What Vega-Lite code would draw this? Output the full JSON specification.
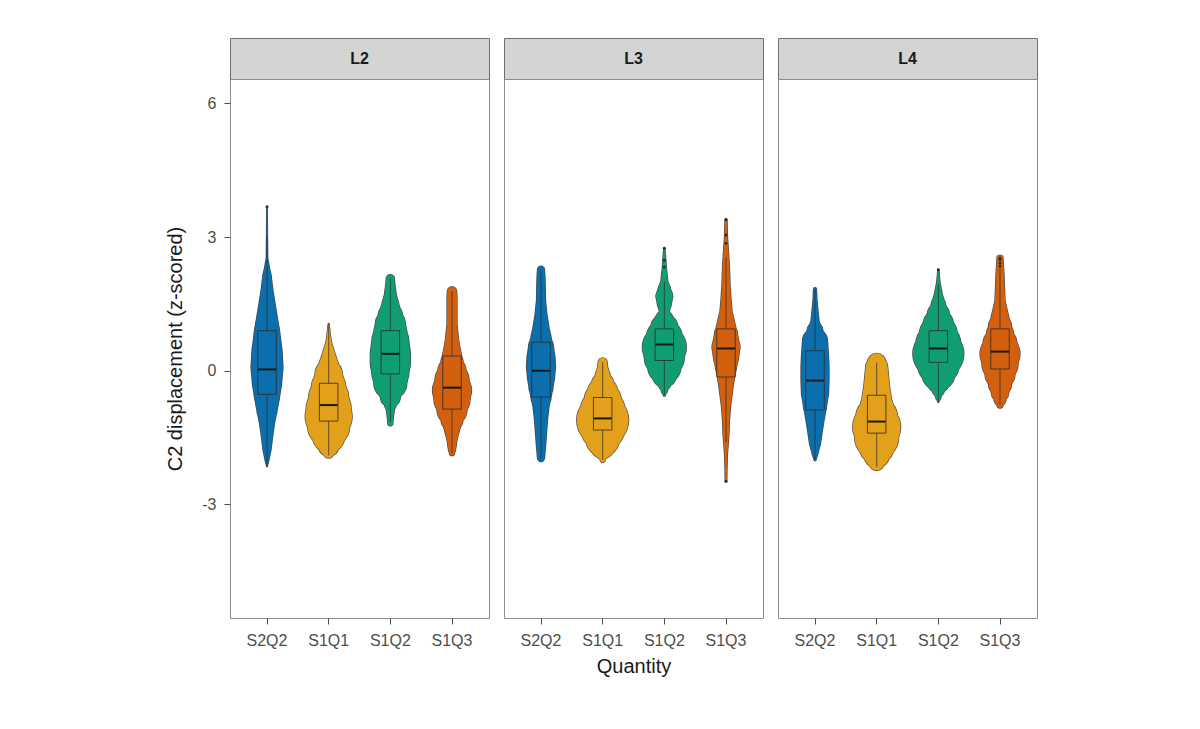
{
  "$schema": "https://vega.github.io/schema/vega-lite/v6.json",
  "padding": {"left": 165, "top": 37, "right": 5, "bottom": 5},
  "background": "white",
  "config": {
    "font": "Liberation Sans",
    "view": {"stroke": "#8c8c8c", "strokeWidth": 1},
    "axis": {
      "labelColor": "#4d4d4d", "labelFontSize": 16, "tickColor": "#4d4d4d", "tickSize": 6, "labelPadding": 8,
      "domain": false, "grid": false, "titleColor": "#1a1a1a", "titleFontWeight": "normal", "titleFontSize": 20
    }
  },
  "datasets": {
    "strips": [{"panel": "L2"}, {"panel": "L3"}, {"panel": "L4"}],
    "violin": [
      {"panel": "L2", "group": "S2Q2", "y": 3.68, "d": 0.01}, {"panel": "L2", "group": "S2Q2", "y": 3.0, "d": 0.02},
      {"panel": "L2", "group": "S2Q2", "y": 2.53, "d": 0.03}, {"panel": "L2", "group": "S2Q2", "y": 2.3, "d": 0.1},
      {"panel": "L2", "group": "S2Q2", "y": 2.16, "d": 0.16}, {"panel": "L2", "group": "S2Q2", "y": 1.79, "d": 0.24},
      {"panel": "L2", "group": "S2Q2", "y": 1.3, "d": 0.38}, {"panel": "L2", "group": "S2Q2", "y": 0.9, "d": 0.5},
      {"panel": "L2", "group": "S2Q2", "y": 0.45, "d": 0.6}, {"panel": "L2", "group": "S2Q2", "y": 0.08, "d": 0.64},
      {"panel": "L2", "group": "S2Q2", "y": -0.3, "d": 0.58}, {"panel": "L2", "group": "S2Q2", "y": -0.59, "d": 0.5},
      {"panel": "L2", "group": "S2Q2", "y": -0.9, "d": 0.4}, {"panel": "L2", "group": "S2Q2", "y": -1.18, "d": 0.3},
      {"panel": "L2", "group": "S2Q2", "y": -1.5, "d": 0.22}, {"panel": "L2", "group": "S2Q2", "y": -1.78, "d": 0.16},
      {"panel": "L2", "group": "S2Q2", "y": -2.0, "d": 0.08}, {"panel": "L2", "group": "S2Q2", "y": -2.15, "d": 0.01},

      {"panel": "L2", "group": "S1Q1", "y": 1.05, "d": 0.02}, {"panel": "L2", "group": "S1Q1", "y": 0.85, "d": 0.06},
      {"panel": "L2", "group": "S1Q1", "y": 0.67, "d": 0.1}, {"panel": "L2", "group": "S1Q1", "y": 0.3, "d": 0.3},
      {"panel": "L2", "group": "S1Q1", "y": -0.06, "d": 0.54}, {"panel": "L2", "group": "S1Q1", "y": -0.35, "d": 0.68},
      {"panel": "L2", "group": "S1Q1", "y": -0.59, "d": 0.8}, {"panel": "L2", "group": "S1Q1", "y": -0.85, "d": 0.9},
      {"panel": "L2", "group": "S1Q1", "y": -1.03, "d": 0.94}, {"panel": "L2", "group": "S1Q1", "y": -1.25, "d": 0.84},
      {"panel": "L2", "group": "S1Q1", "y": -1.48, "d": 0.64}, {"panel": "L2", "group": "S1Q1", "y": -1.7, "d": 0.4},
      {"panel": "L2", "group": "S1Q1", "y": -1.85, "d": 0.2}, {"panel": "L2", "group": "S1Q1", "y": -1.92, "d": 0.04},

      {"panel": "L2", "group": "S1Q2", "y": 2.07, "d": 0.16}, {"panel": "L2", "group": "S1Q2", "y": 1.94, "d": 0.18},
      {"panel": "L2", "group": "S1Q2", "y": 1.7, "d": 0.24}, {"panel": "L2", "group": "S1Q2", "y": 1.49, "d": 0.34},
      {"panel": "L2", "group": "S1Q2", "y": 1.25, "d": 0.48}, {"panel": "L2", "group": "S1Q2", "y": 1.05, "d": 0.6},
      {"panel": "L2", "group": "S1Q2", "y": 0.67, "d": 0.74}, {"panel": "L2", "group": "S1Q2", "y": 0.4, "d": 0.8},
      {"panel": "L2", "group": "S1Q2", "y": 0.16, "d": 0.8}, {"panel": "L2", "group": "S1Q2", "y": -0.05, "d": 0.74},
      {"panel": "L2", "group": "S1Q2", "y": -0.28, "d": 0.66}, {"panel": "L2", "group": "S1Q2", "y": -0.59, "d": 0.4},
      {"panel": "L2", "group": "S1Q2", "y": -0.75, "d": 0.24}, {"panel": "L2", "group": "S1Q2", "y": -0.88, "d": 0.16},
      {"panel": "L2", "group": "S1Q2", "y": -1.05, "d": 0.12}, {"panel": "L2", "group": "S1Q2", "y": -1.18, "d": 0.1},

      {"panel": "L2", "group": "S1Q3", "y": 1.79, "d": 0.18}, {"panel": "L2", "group": "S1Q3", "y": 1.64, "d": 0.2},
      {"panel": "L2", "group": "S1Q3", "y": 1.05, "d": 0.2}, {"panel": "L2", "group": "S1Q3", "y": 0.7, "d": 0.26},
      {"panel": "L2", "group": "S1Q3", "y": 0.45, "d": 0.34}, {"panel": "L2", "group": "S1Q3", "y": 0.2, "d": 0.44},
      {"panel": "L2", "group": "S1Q3", "y": 0.0, "d": 0.56}, {"panel": "L2", "group": "S1Q3", "y": -0.2, "d": 0.68},
      {"panel": "L2", "group": "S1Q3", "y": -0.44, "d": 0.78}, {"panel": "L2", "group": "S1Q3", "y": -0.65, "d": 0.72},
      {"panel": "L2", "group": "S1Q3", "y": -0.88, "d": 0.6}, {"panel": "L2", "group": "S1Q3", "y": -1.1, "d": 0.44},
      {"panel": "L2", "group": "S1Q3", "y": -1.33, "d": 0.3}, {"panel": "L2", "group": "S1Q3", "y": -1.55, "d": 0.2},
      {"panel": "L2", "group": "S1Q3", "y": -1.78, "d": 0.14}, {"panel": "L2", "group": "S1Q3", "y": -1.85, "d": 0.1},

      {"panel": "L3", "group": "S2Q2", "y": 2.27, "d": 0.14}, {"panel": "L3", "group": "S2Q2", "y": 2.08, "d": 0.16},
      {"panel": "L3", "group": "S2Q2", "y": 1.57, "d": 0.18}, {"panel": "L3", "group": "S2Q2", "y": 1.25, "d": 0.24},
      {"panel": "L3", "group": "S2Q2", "y": 0.97, "d": 0.32}, {"panel": "L3", "group": "S2Q2", "y": 0.75, "d": 0.4},
      {"panel": "L3", "group": "S2Q2", "y": 0.53, "d": 0.5}, {"panel": "L3", "group": "S2Q2", "y": 0.3, "d": 0.56},
      {"panel": "L3", "group": "S2Q2", "y": 0.08, "d": 0.58}, {"panel": "L3", "group": "S2Q2", "y": -0.15, "d": 0.54},
      {"panel": "L3", "group": "S2Q2", "y": -0.37, "d": 0.48}, {"panel": "L3", "group": "S2Q2", "y": -0.6, "d": 0.4},
      {"panel": "L3", "group": "S2Q2", "y": -0.81, "d": 0.32}, {"panel": "L3", "group": "S2Q2", "y": -1.1, "d": 0.26},
      {"panel": "L3", "group": "S2Q2", "y": -1.4, "d": 0.22}, {"panel": "L3", "group": "S2Q2", "y": -1.7, "d": 0.18},
      {"panel": "L3", "group": "S2Q2", "y": -1.96, "d": 0.14},

      {"panel": "L3", "group": "S1Q1", "y": 0.19, "d": 0.18}, {"panel": "L3", "group": "S1Q1", "y": 0.08, "d": 0.2},
      {"panel": "L3", "group": "S1Q1", "y": -0.1, "d": 0.3}, {"panel": "L3", "group": "S1Q1", "y": -0.29, "d": 0.44},
      {"panel": "L3", "group": "S1Q1", "y": -0.48, "d": 0.6}, {"panel": "L3", "group": "S1Q1", "y": -0.66, "d": 0.74},
      {"panel": "L3", "group": "S1Q1", "y": -0.9, "d": 0.9}, {"panel": "L3", "group": "S1Q1", "y": -1.11, "d": 1.04},
      {"panel": "L3", "group": "S1Q1", "y": -1.3, "d": 0.88}, {"panel": "L3", "group": "S1Q1", "y": -1.55, "d": 0.66},
      {"panel": "L3", "group": "S1Q1", "y": -1.7, "d": 0.48}, {"panel": "L3", "group": "S1Q1", "y": -1.85, "d": 0.26},
      {"panel": "L3", "group": "S1Q1", "y": -2.0, "d": 0.1},

      {"panel": "L3", "group": "S1Q2", "y": 2.75, "d": 0.02}, {"panel": "L3", "group": "S1Q2", "y": 2.5, "d": 0.06},
      {"panel": "L3", "group": "S1Q2", "y": 2.31, "d": 0.08}, {"panel": "L3", "group": "S1Q2", "y": 2.01, "d": 0.14},
      {"panel": "L3", "group": "S1Q2", "y": 1.85, "d": 0.24}, {"panel": "L3", "group": "S1Q2", "y": 1.68, "d": 0.34},
      {"panel": "L3", "group": "S1Q2", "y": 1.5, "d": 0.28}, {"panel": "L3", "group": "S1Q2", "y": 1.34, "d": 0.2},
      {"panel": "L3", "group": "S1Q2", "y": 1.15, "d": 0.36}, {"panel": "L3", "group": "S1Q2", "y": 0.97, "d": 0.54},
      {"panel": "L3", "group": "S1Q2", "y": 0.75, "d": 0.72}, {"panel": "L3", "group": "S1Q2", "y": 0.53, "d": 0.88},
      {"panel": "L3", "group": "S1Q2", "y": 0.3, "d": 0.8}, {"panel": "L3", "group": "S1Q2", "y": 0.08, "d": 0.66},
      {"panel": "L3", "group": "S1Q2", "y": -0.1, "d": 0.48}, {"panel": "L3", "group": "S1Q2", "y": -0.29, "d": 0.26},
      {"panel": "L3", "group": "S1Q2", "y": -0.45, "d": 0.12}, {"panel": "L3", "group": "S1Q2", "y": -0.55, "d": 0.04},

      {"panel": "L3", "group": "S1Q3", "y": 3.39, "d": 0.04}, {"panel": "L3", "group": "S1Q3", "y": 3.0, "d": 0.06},
      {"panel": "L3", "group": "S1Q3", "y": 2.68, "d": 0.1}, {"panel": "L3", "group": "S1Q3", "y": 2.3, "d": 0.14},
      {"panel": "L3", "group": "S1Q3", "y": 1.94, "d": 0.16}, {"panel": "L3", "group": "S1Q3", "y": 1.6, "d": 0.2},
      {"panel": "L3", "group": "S1Q3", "y": 1.34, "d": 0.24}, {"panel": "L3", "group": "S1Q3", "y": 1.05, "d": 0.36},
      {"panel": "L3", "group": "S1Q3", "y": 0.82, "d": 0.46}, {"panel": "L3", "group": "S1Q3", "y": 0.53, "d": 0.56},
      {"panel": "L3", "group": "S1Q3", "y": 0.3, "d": 0.5}, {"panel": "L3", "group": "S1Q3", "y": 0.08, "d": 0.42},
      {"panel": "L3", "group": "S1Q3", "y": -0.15, "d": 0.34}, {"panel": "L3", "group": "S1Q3", "y": -0.37, "d": 0.28},
      {"panel": "L3", "group": "S1Q3", "y": -0.81, "d": 0.18}, {"panel": "L3", "group": "S1Q3", "y": -1.1, "d": 0.14},
      {"panel": "L3", "group": "S1Q3", "y": -1.4, "d": 0.12}, {"panel": "L3", "group": "S1Q3", "y": -1.85, "d": 0.06},
      {"panel": "L3", "group": "S1Q3", "y": -2.2, "d": 0.04}, {"panel": "L3", "group": "S1Q3", "y": -2.48, "d": 0.03},

      {"panel": "L4", "group": "S2Q2", "y": 1.83, "d": 0.06}, {"panel": "L4", "group": "S2Q2", "y": 1.57, "d": 0.08},
      {"panel": "L4", "group": "S2Q2", "y": 1.35, "d": 0.12}, {"panel": "L4", "group": "S2Q2", "y": 1.12, "d": 0.16},
      {"panel": "L4", "group": "S2Q2", "y": 0.9, "d": 0.32}, {"panel": "L4", "group": "S2Q2", "y": 0.67, "d": 0.5},
      {"panel": "L4", "group": "S2Q2", "y": 0.35, "d": 0.54}, {"panel": "L4", "group": "S2Q2", "y": 0.08, "d": 0.56},
      {"panel": "L4", "group": "S2Q2", "y": -0.2, "d": 0.56}, {"panel": "L4", "group": "S2Q2", "y": -0.51, "d": 0.54},
      {"panel": "L4", "group": "S2Q2", "y": -0.8, "d": 0.46}, {"panel": "L4", "group": "S2Q2", "y": -1.11, "d": 0.36},
      {"panel": "L4", "group": "S2Q2", "y": -1.4, "d": 0.28}, {"panel": "L4", "group": "S2Q2", "y": -1.63, "d": 0.22},
      {"panel": "L4", "group": "S2Q2", "y": -1.85, "d": 0.12}, {"panel": "L4", "group": "S2Q2", "y": -2.0, "d": 0.04},

      {"panel": "L4", "group": "S1Q1", "y": 0.19, "d": 0.36}, {"panel": "L4", "group": "S1Q1", "y": 0.08, "d": 0.44},
      {"panel": "L4", "group": "S1Q1", "y": -0.15, "d": 0.48}, {"panel": "L4", "group": "S1Q1", "y": -0.37, "d": 0.52},
      {"panel": "L4", "group": "S1Q1", "y": -0.6, "d": 0.58}, {"panel": "L4", "group": "S1Q1", "y": -0.81, "d": 0.66},
      {"panel": "L4", "group": "S1Q1", "y": -1.05, "d": 0.84}, {"panel": "L4", "group": "S1Q1", "y": -1.26, "d": 0.96},
      {"panel": "L4", "group": "S1Q1", "y": -1.5, "d": 0.88}, {"panel": "L4", "group": "S1Q1", "y": -1.7, "d": 0.7},
      {"panel": "L4", "group": "S1Q1", "y": -1.9, "d": 0.5}, {"panel": "L4", "group": "S1Q1", "y": -2.07, "d": 0.3},
      {"panel": "L4", "group": "S1Q1", "y": -2.15, "d": 0.16},

      {"panel": "L4", "group": "S1Q2", "y": 2.27, "d": 0.02}, {"panel": "L4", "group": "S1Q2", "y": 2.01, "d": 0.06},
      {"panel": "L4", "group": "S1Q2", "y": 1.71, "d": 0.16}, {"panel": "L4", "group": "S1Q2", "y": 1.5, "d": 0.28},
      {"panel": "L4", "group": "S1Q2", "y": 1.27, "d": 0.44}, {"panel": "L4", "group": "S1Q2", "y": 1.05, "d": 0.6},
      {"panel": "L4", "group": "S1Q2", "y": 0.82, "d": 0.76}, {"panel": "L4", "group": "S1Q2", "y": 0.6, "d": 0.9},
      {"panel": "L4", "group": "S1Q2", "y": 0.38, "d": 1.02}, {"panel": "L4", "group": "S1Q2", "y": 0.15, "d": 0.84},
      {"panel": "L4", "group": "S1Q2", "y": -0.07, "d": 0.66}, {"panel": "L4", "group": "S1Q2", "y": -0.25, "d": 0.44},
      {"panel": "L4", "group": "S1Q2", "y": -0.44, "d": 0.24}, {"panel": "L4", "group": "S1Q2", "y": -0.6, "d": 0.1},
      {"panel": "L4", "group": "S1Q2", "y": -0.7, "d": 0.02},

      {"panel": "L4", "group": "S1Q3", "y": 2.53, "d": 0.12}, {"panel": "L4", "group": "S1Q3", "y": 2.35, "d": 0.14},
      {"panel": "L4", "group": "S1Q3", "y": 2.16, "d": 0.16}, {"panel": "L4", "group": "S1Q3", "y": 1.85, "d": 0.18},
      {"panel": "L4", "group": "S1Q3", "y": 1.57, "d": 0.2}, {"panel": "L4", "group": "S1Q3", "y": 1.19, "d": 0.36},
      {"panel": "L4", "group": "S1Q3", "y": 1.0, "d": 0.46}, {"panel": "L4", "group": "S1Q3", "y": 0.82, "d": 0.54},
      {"panel": "L4", "group": "S1Q3", "y": 0.6, "d": 0.68}, {"panel": "L4", "group": "S1Q3", "y": 0.38, "d": 0.8},
      {"panel": "L4", "group": "S1Q3", "y": 0.15, "d": 0.72}, {"panel": "L4", "group": "S1Q3", "y": -0.07, "d": 0.6},
      {"panel": "L4", "group": "S1Q3", "y": -0.3, "d": 0.46}, {"panel": "L4", "group": "S1Q3", "y": -0.51, "d": 0.34},
      {"panel": "L4", "group": "S1Q3", "y": -0.65, "d": 0.24}, {"panel": "L4", "group": "S1Q3", "y": -0.77, "d": 0.12}
    ],
    "box": [
      {"panel": "L2", "group": "S2Q2", "lower": -2.15, "q1": -0.53, "median": 0.03, "q3": 0.9, "upper": 3.0},
      {"panel": "L2", "group": "S1Q1", "lower": -1.9, "q1": -1.13, "median": -0.77, "q3": -0.28, "upper": 1.05},
      {"panel": "L2", "group": "S1Q2", "lower": -1.15, "q1": -0.07, "median": 0.38, "q3": 0.9, "upper": 2.07},
      {"panel": "L2", "group": "S1Q3", "lower": -1.85, "q1": -0.86, "median": -0.38, "q3": 0.33, "upper": 1.79},
      {"panel": "L3", "group": "S2Q2", "lower": -1.96, "q1": -0.59, "median": 0.0, "q3": 0.64, "upper": 2.27},
      {"panel": "L3", "group": "S1Q1", "lower": -2.0, "q1": -1.33, "median": -1.07, "q3": -0.6, "upper": 0.19},
      {"panel": "L3", "group": "S1Q2", "lower": -0.55, "q1": 0.23, "median": 0.59, "q3": 0.94, "upper": 2.0},
      {"panel": "L3", "group": "S1Q3", "lower": -1.6, "q1": -0.14, "median": 0.5, "q3": 0.94, "upper": 2.55},
      {"panel": "L4", "group": "S2Q2", "lower": -2.0, "q1": -0.88, "median": -0.22, "q3": 0.45, "upper": 1.83},
      {"panel": "L4", "group": "S1Q1", "lower": -2.15, "q1": -1.4, "median": -1.14, "q3": -0.55, "upper": 0.19},
      {"panel": "L4", "group": "S1Q2", "lower": -0.7, "q1": 0.19, "median": 0.5, "q3": 0.9, "upper": 1.95},
      {"panel": "L4", "group": "S1Q3", "lower": -0.77, "q1": 0.04, "median": 0.43, "q3": 0.94, "upper": 2.3}
    ],
    "outliers": [
      {"panel": "L2", "group": "S2Q2", "y": 3.68},
      {"panel": "L3", "group": "S1Q2", "y": 2.33}, {"panel": "L3", "group": "S1Q2", "y": 2.48}, {"panel": "L3", "group": "S1Q2", "y": 2.75},
      {"panel": "L3", "group": "S1Q3", "y": 2.86}, {"panel": "L3", "group": "S1Q3", "y": 3.05}, {"panel": "L3", "group": "S1Q3", "y": 3.39}, {"panel": "L3", "group": "S1Q3", "y": -2.48},
      {"panel": "L4", "group": "S1Q2", "y": 2.27},
      {"panel": "L4", "group": "S1Q3", "y": 2.35}, {"panel": "L4", "group": "S1Q3", "y": 2.42}, {"panel": "L4", "group": "S1Q3", "y": 2.5}, {"panel": "L4", "group": "S1Q3", "y": 2.53}
    ]
  },
  "hconcat": [
    {
      "spacing": 0,
      "bounds": "flush",
      "vconcat": [
        {
          "width": 259, "height": 41,
          "data": {"name": "strips"},
          "transform": [{"filter": "datum.panel === 'L2'"}],
          "view": {"fill": "#d4d4d4", "stroke": "#6e6e6e"},
          "mark": {"type": "text", "fontWeight": "bold", "fontSize": 16, "color": "#1a1a1a"},
          "encoding": {"text": {"field": "panel"}}
        },
        {
          "width": 259, "height": 539,
          "resolve": {"scale": {"size": "independent"}},
          "layer": [
            {
              "data": {"name": "violin"},
              "transform": [{"filter": "datum.panel === 'L2'"}],
              "mark": {"type": "trail", "color": "#333333", "opacity": 0.9},
              "encoding": {
                "x": {"field": "group", "type": "nominal", "sort": ["S2Q2", "S1Q1", "S1Q2", "S1Q3"], "scale": {"type": "band", "paddingInner": 0, "paddingOuter": 0.1}, "axis": {"title": null, "labelAngle": 0}},
                "y": {"field": "y", "type": "quantitative", "scale": {"domain": [-5.55, 6.55], "nice": false, "zero": false}, "axis": {"values": [-3, 0, 3, 6], "labelExpr": "datum.value < 0 ? '-' + abs(datum.value) : datum.label", "title": "C2 displacement (z-scored)", "titlePadding": 16}},
                "size": {"field": "d", "type": "quantitative", "scale": {"domain": [0, 1], "range": [1.3, 51.3]}, "legend": null},
                "order": {"field": "y", "type": "quantitative"},
                "detail": {"field": "group"}
              }
            },
            {
              "data": {"name": "violin"},
              "transform": [{"filter": "datum.panel === 'L2'"}],
              "mark": {"type": "trail", "opacity": 1},
              "encoding": {
                "x": {"field": "group", "type": "nominal", "sort": ["S2Q2", "S1Q1", "S1Q2", "S1Q3"]},
                "y": {"field": "y", "type": "quantitative"},
                "size": {"field": "d", "type": "quantitative", "scale": {"domain": [0, 1], "range": [0, 50]}, "legend": null},
                "fill": {"field": "group", "type": "nominal", "scale": {"domain": ["S2Q2", "S1Q1", "S1Q2", "S1Q3"], "range": ["#0b6fae", "#e3a01a", "#119d72", "#d2600e"]}, "legend": null},
                "order": {"field": "y", "type": "quantitative"}
              }
            },
            {
              "data": {"name": "box"},
              "transform": [{"filter": "datum.panel === 'L2'"}],
              "mark": {"type": "rule", "color": "#2b2b2b", "strokeWidth": 0.7},
              "encoding": {
                "x": {"field": "group", "type": "nominal", "sort": ["S2Q2", "S1Q1", "S1Q2", "S1Q3"]},
                "y": {"field": "lower", "type": "quantitative"},
                "y2": {"field": "upper"}
              }
            },
            {
              "data": {"name": "box"},
              "transform": [{"filter": "datum.panel === 'L2'"}],
              "mark": {"type": "bar", "width": {"band": 0.3}, "stroke": "#2b2b2b", "strokeWidth": 0.8},
              "encoding": {
                "x": {"field": "group", "type": "nominal", "sort": ["S2Q2", "S1Q1", "S1Q2", "S1Q3"]},
                "y": {"field": "q1", "type": "quantitative"},
                "y2": {"field": "q3"},
                "fill": {"field": "group", "type": "nominal", "legend": null}
              }
            },
            {
              "data": {"name": "box"},
              "transform": [{"filter": "datum.panel === 'L2'"}],
              "mark": {"type": "tick", "color": "#1a1a1a", "thickness": 2, "size": 18, "opacity": 1},
              "encoding": {
                "x": {"field": "group", "type": "nominal", "sort": ["S2Q2", "S1Q1", "S1Q2", "S1Q3"]},
                "y": {"field": "median", "type": "quantitative"}
              }
            },
            {
              "data": {"name": "outliers"},
              "transform": [{"filter": "datum.panel === 'L2'"}],
              "mark": {"type": "circle", "color": "#2b2b2b", "size": 9, "opacity": 1},
              "encoding": {
                "x": {"field": "group", "type": "nominal", "sort": ["S2Q2", "S1Q1", "S1Q2", "S1Q3"]},
                "y": {"field": "y", "type": "quantitative"}
              }
            }
          ]
        }
      ]
    },
    {
      "spacing": 0,
      "bounds": "flush",
      "vconcat": [
        {
          "width": 259, "height": 41,
          "data": {"name": "strips"},
          "transform": [{"filter": "datum.panel === 'L3'"}],
          "view": {"fill": "#d4d4d4", "stroke": "#6e6e6e"},
          "mark": {"type": "text", "fontWeight": "bold", "fontSize": 16, "color": "#1a1a1a"},
          "encoding": {"text": {"field": "panel"}}
        },
        {
          "width": 259, "height": 539,
          "resolve": {"scale": {"size": "independent"}},
          "layer": [
            {
              "data": {"name": "violin"},
              "transform": [{"filter": "datum.panel === 'L3'"}],
              "mark": {"type": "trail", "color": "#333333", "opacity": 0.9},
              "encoding": {
                "x": {"field": "group", "type": "nominal", "sort": ["S2Q2", "S1Q1", "S1Q2", "S1Q3"], "scale": {"type": "band", "paddingInner": 0, "paddingOuter": 0.1}, "axis": {"title": "Quantity", "labelAngle": 0, "titlePadding": 8}},
                "y": {"field": "y", "type": "quantitative", "scale": {"domain": [-5.55, 6.55], "nice": false, "zero": false}, "axis": null},
                "size": {"field": "d", "type": "quantitative", "scale": {"domain": [0, 1], "range": [1.3, 51.3]}, "legend": null},
                "order": {"field": "y", "type": "quantitative"},
                "detail": {"field": "group"}
              }
            },
            {
              "data": {"name": "violin"},
              "transform": [{"filter": "datum.panel === 'L3'"}],
              "mark": {"type": "trail", "opacity": 1},
              "encoding": {
                "x": {"field": "group", "type": "nominal", "sort": ["S2Q2", "S1Q1", "S1Q2", "S1Q3"]},
                "y": {"field": "y", "type": "quantitative", "axis": null},
                "size": {"field": "d", "type": "quantitative", "scale": {"domain": [0, 1], "range": [0, 50]}, "legend": null},
                "fill": {"field": "group", "type": "nominal", "scale": {"domain": ["S2Q2", "S1Q1", "S1Q2", "S1Q3"], "range": ["#0b6fae", "#e3a01a", "#119d72", "#d2600e"]}, "legend": null},
                "order": {"field": "y", "type": "quantitative"}
              }
            },
            {
              "data": {"name": "box"},
              "transform": [{"filter": "datum.panel === 'L3'"}],
              "mark": {"type": "rule", "color": "#2b2b2b", "strokeWidth": 0.7},
              "encoding": {
                "x": {"field": "group", "type": "nominal", "sort": ["S2Q2", "S1Q1", "S1Q2", "S1Q3"]},
                "y": {"field": "lower", "type": "quantitative", "axis": null},
                "y2": {"field": "upper"}
              }
            },
            {
              "data": {"name": "box"},
              "transform": [{"filter": "datum.panel === 'L3'"}],
              "mark": {"type": "bar", "width": {"band": 0.3}, "stroke": "#2b2b2b", "strokeWidth": 0.8},
              "encoding": {
                "x": {"field": "group", "type": "nominal", "sort": ["S2Q2", "S1Q1", "S1Q2", "S1Q3"]},
                "y": {"field": "q1", "type": "quantitative", "axis": null},
                "y2": {"field": "q3"},
                "fill": {"field": "group", "type": "nominal", "legend": null}
              }
            },
            {
              "data": {"name": "box"},
              "transform": [{"filter": "datum.panel === 'L3'"}],
              "mark": {"type": "tick", "color": "#1a1a1a", "thickness": 2, "size": 18, "opacity": 1},
              "encoding": {
                "x": {"field": "group", "type": "nominal", "sort": ["S2Q2", "S1Q1", "S1Q2", "S1Q3"]},
                "y": {"field": "median", "type": "quantitative", "axis": null}
              }
            },
            {
              "data": {"name": "outliers"},
              "transform": [{"filter": "datum.panel === 'L3'"}],
              "mark": {"type": "circle", "color": "#2b2b2b", "size": 9, "opacity": 1},
              "encoding": {
                "x": {"field": "group", "type": "nominal", "sort": ["S2Q2", "S1Q1", "S1Q2", "S1Q3"]},
                "y": {"field": "y", "type": "quantitative", "axis": null}
              }
            }
          ]
        }
      ]
    },
    {
      "spacing": 0,
      "bounds": "flush",
      "vconcat": [
        {
          "width": 259, "height": 41,
          "data": {"name": "strips"},
          "transform": [{"filter": "datum.panel === 'L4'"}],
          "view": {"fill": "#d4d4d4", "stroke": "#6e6e6e"},
          "mark": {"type": "text", "fontWeight": "bold", "fontSize": 16, "color": "#1a1a1a"},
          "encoding": {"text": {"field": "panel"}}
        },
        {
          "width": 259, "height": 539,
          "resolve": {"scale": {"size": "independent"}},
          "layer": [
            {
              "data": {"name": "violin"},
              "transform": [{"filter": "datum.panel === 'L4'"}],
              "mark": {"type": "trail", "color": "#333333", "opacity": 0.9},
              "encoding": {
                "x": {"field": "group", "type": "nominal", "sort": ["S2Q2", "S1Q1", "S1Q2", "S1Q3"], "scale": {"type": "band", "paddingInner": 0, "paddingOuter": 0.1}, "axis": {"title": null, "labelAngle": 0}},
                "y": {"field": "y", "type": "quantitative", "scale": {"domain": [-5.55, 6.55], "nice": false, "zero": false}, "axis": null},
                "size": {"field": "d", "type": "quantitative", "scale": {"domain": [0, 1], "range": [1.3, 51.3]}, "legend": null},
                "order": {"field": "y", "type": "quantitative"},
                "detail": {"field": "group"}
              }
            },
            {
              "data": {"name": "violin"},
              "transform": [{"filter": "datum.panel === 'L4'"}],
              "mark": {"type": "trail", "opacity": 1},
              "encoding": {
                "x": {"field": "group", "type": "nominal", "sort": ["S2Q2", "S1Q1", "S1Q2", "S1Q3"]},
                "y": {"field": "y", "type": "quantitative", "axis": null},
                "size": {"field": "d", "type": "quantitative", "scale": {"domain": [0, 1], "range": [0, 50]}, "legend": null},
                "fill": {"field": "group", "type": "nominal", "scale": {"domain": ["S2Q2", "S1Q1", "S1Q2", "S1Q3"], "range": ["#0b6fae", "#e3a01a", "#119d72", "#d2600e"]}, "legend": null},
                "order": {"field": "y", "type": "quantitative"}
              }
            },
            {
              "data": {"name": "box"},
              "transform": [{"filter": "datum.panel === 'L4'"}],
              "mark": {"type": "rule", "color": "#2b2b2b", "strokeWidth": 0.7},
              "encoding": {
                "x": {"field": "group", "type": "nominal", "sort": ["S2Q2", "S1Q1", "S1Q2", "S1Q3"]},
                "y": {"field": "lower", "type": "quantitative", "axis": null},
                "y2": {"field": "upper"}
              }
            },
            {
              "data": {"name": "box"},
              "transform": [{"filter": "datum.panel === 'L4'"}],
              "mark": {"type": "bar", "width": {"band": 0.3}, "stroke": "#2b2b2b", "strokeWidth": 0.8},
              "encoding": {
                "x": {"field": "group", "type": "nominal", "sort": ["S2Q2", "S1Q1", "S1Q2", "S1Q3"]},
                "y": {"field": "q1", "type": "quantitative", "axis": null},
                "y2": {"field": "q3"},
                "fill": {"field": "group", "type": "nominal", "legend": null}
              }
            },
            {
              "data": {"name": "box"},
              "transform": [{"filter": "datum.panel === 'L4'"}],
              "mark": {"type": "tick", "color": "#1a1a1a", "thickness": 2, "size": 18, "opacity": 1},
              "encoding": {
                "x": {"field": "group", "type": "nominal", "sort": ["S2Q2", "S1Q1", "S1Q2", "S1Q3"]},
                "y": {"field": "median", "type": "quantitative", "axis": null}
              }
            },
            {
              "data": {"name": "outliers"},
              "transform": [{"filter": "datum.panel === 'L4'"}],
              "mark": {"type": "circle", "color": "#2b2b2b", "size": 9, "opacity": 1},
              "encoding": {
                "x": {"field": "group", "type": "nominal", "sort": ["S2Q2", "S1Q1", "S1Q2", "S1Q3"]},
                "y": {"field": "y", "type": "quantitative", "axis": null}
              }
            }
          ]
        }
      ]
    }
  ],
  "spacing": 13
}
